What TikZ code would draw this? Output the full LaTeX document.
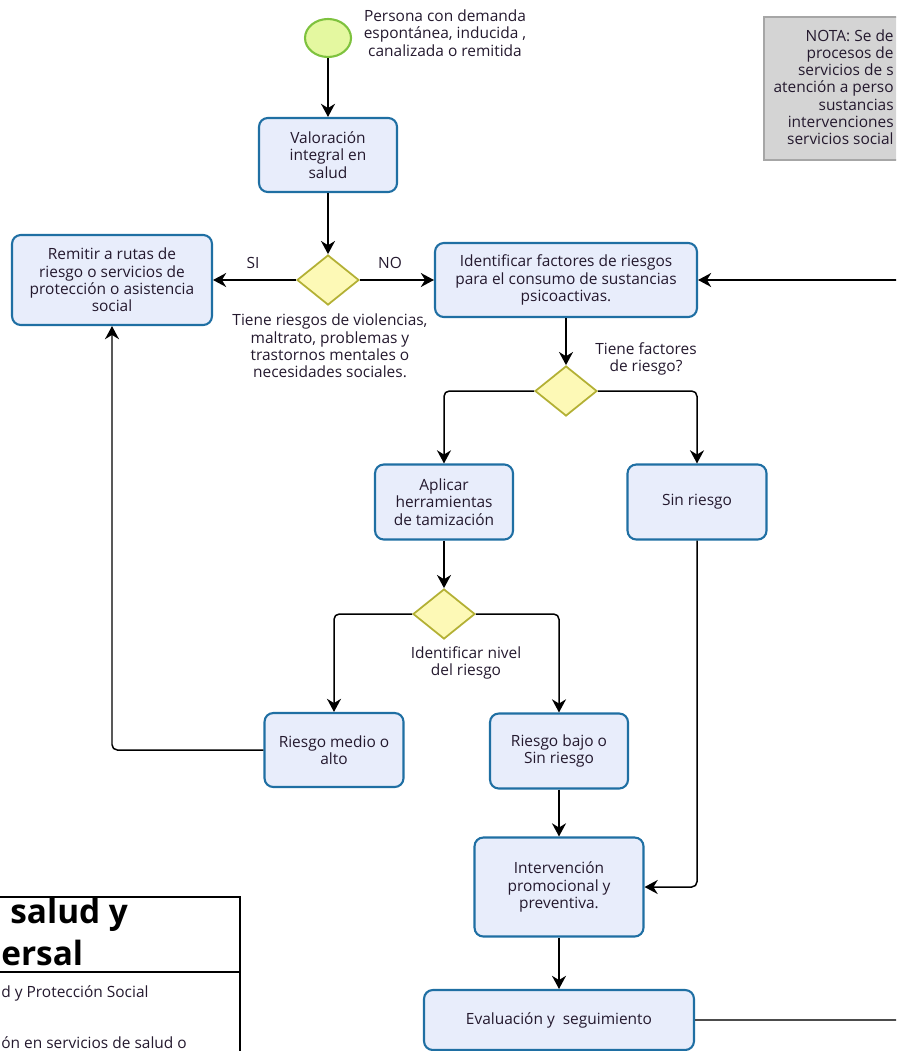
\documentclass[tikz,border=0pt]{standalone}
\usepackage{fontspec}
\setmainfont{Open Sans}
\usetikzlibrary{shapes.geometric,arrows.meta,positioning}

\definecolor{bordeazul}{HTML}{1F6FA3}
\definecolor{fondoazul}{HTML}{E8EDFB}
\definecolor{bordeoliva}{HTML}{B3B034}
\definecolor{fondoamarillo}{HTML}{FDF9B6}
\definecolor{bordeverde}{HTML}{7EC23E}
\definecolor{fondoverde}{HTML}{E4F8A0}
\definecolor{bordegris}{HTML}{A6A6A6}
\definecolor{fondogris}{HTML}{D4D4D4}
\definecolor{texto}{HTML}{24192E}

\begin{document}
\begin{tikzpicture}[x=0.02cm, y=-0.02cm, font=\fontsize{8.8}{9.8}\selectfont,
    proceso/.style={draw=bordeazul, fill=fondoazul, line width=1.2pt, rounded corners=5pt, align=center, text=texto, inner sep=2pt},
    decision/.style={diamond, draw=bordeoliva, fill=fondoamarillo, line width=1pt, minimum width=1.24cm, minimum height=1cm, inner sep=0pt},
    inicio/.style={ellipse, draw=bordeverde, fill=fondoverde, line width=1.2pt, minimum width=0.92cm, minimum height=0.76cm},
    etiqueta/.style={align=center, text=texto, inner sep=0pt},
    titulo/.style={font=\fontsize{19}{21.5}\selectfont\bfseries, text=black, inner sep=0pt},
    flecha/.style={draw=black, line width=0.85pt, -{Stealth[length=7.5pt,width=8pt]}, rounded corners=3pt}]

    \clip (0,0) rectangle (896,1051);

    % inicio
    \node [inicio] (inicio) at (328,38) {};
    \node [etiqueta] (inicio-txt) at (445,33) {Persona con demanda\\espontánea, inducida ,\\canalizada o remitida};
    \node [proceso, minimum width=2.76cm, minimum height=1.48cm] (valor) at (328,155) {Valoración\\integral en\\salud};

    % primera decision
    \node [decision] (riesgos) at (328,280) {};
    \node [etiqueta] (riesgos-txt) at (330,346) {Tiene riesgos de violencias,\\maltrato, problemas y\\trastornos mentales o\\necesidades sociales.};
    \node [etiqueta] (si) at (253,263) {SI};
    \node [etiqueta] (no) at (390,263) {NO};
    \node [proceso, minimum width=4cm, minimum height=1.8cm] (remitir) at (112,280) {Remitir a rutas de\\riesgo o servicios de\\protección o asistencia\\social};
    \node [proceso, minimum width=5.24cm, minimum height=1.48cm] (factores) at (566,280) {Identificar factores de riesgos\\para el consumo de sustancias\\psicoactivas.};
    \coordinate (retorno) at (905,280);

    % segunda decision
    \node [decision] (tiene) at (566,391) {};
    \node [etiqueta] (tiene-txt) at (646,359) {Tiene factores\\de riesgo?};
    \node [proceso, minimum width=2.76cm, minimum height=1.5cm] (aplicar) at (444,502) {Aplicar\\herramientas\\de tamización};
    \node [proceso, minimum width=2.78cm, minimum height=1.5cm] (sinriesgo) at (697,502) {Sin riesgo};

    % nivel del riesgo
    \node [decision] (nivel) at (444,614) {};
    \node [etiqueta] (nivel-txt) at (466,663) {Identificar nivel\\del riesgo};
    \node [proceso, minimum width=2.78cm, minimum height=1.48cm] (medio) at (334,750) {Riesgo medio o\\alto};
    \node [proceso, minimum width=2.76cm, minimum height=1.5cm] (bajo) at (559,751) {Riesgo bajo o\\Sin riesgo};
    \node [proceso, minimum width=3.38cm, minimum height=1.98cm] (interv) at (559,887) {Intervención\\promocional y\\preventiva.};
    \node [proceso, minimum width=5.4cm, minimum height=1.2cm] (evaluacion) at (559,1020) {Evaluación y \ seguimiento};
    \coordinate (salida) at (905,1020);

    % nota
    \draw [draw=bordegris, fill=fondogris, line width=0.8pt] (764,17) rectangle (910,160);
    \node [etiqueta, align=right, anchor=east] (nota) at (894,87) {NOTA: Se de\\procesos de\\servicios de s\\atención a perso\\sustancias\\intervenciones\\servicios social};

    % cuadro de titulo
    \draw [line width=0.8pt] (-10,897) rectangle (240,1070);
    \draw [line width=0.8pt] (-10,972) -- (240,972);
    \node [titulo, anchor=west] (titulo1) at (10,915) {salud y};
    \node [titulo, anchor=west] (titulo2) at (1,953) {ersal};
    \node [etiqueta, anchor=west] (pie1) at (1,993) {d y Protección Social};
    \node [etiqueta, anchor=west] (pie2) at (1,1043) {ón en servicios de salud o};

    % conectores
    \draw [flecha] (inicio) -- (valor);
    \draw [flecha] (valor) -- (riesgos);
    \draw [flecha] (riesgos) -- (remitir);
    \draw [flecha] (riesgos) -- (factores);
    \draw [flecha] (retorno) -- (factores);
    \draw [flecha] (factores) -- (tiene);
    \draw [flecha] (tiene.west) -| (aplicar);
    \draw [flecha] (tiene.east) -| (sinriesgo);
    \draw [flecha] (aplicar) -- (nivel);
    \draw [flecha] (nivel.west) -| (medio);
    \draw [flecha] (nivel.east) -| (bajo);
    \draw [flecha] (medio.west) -| (remitir);
    \draw [flecha] (bajo) -- (interv);
    \draw [flecha] (sinriesgo) |- (interv);
    \draw [flecha] (interv) -- (evaluacion);
    \draw [draw=black!70, line width=0.85pt] (evaluacion) -- (salida);
\end{tikzpicture}
\end{document}
